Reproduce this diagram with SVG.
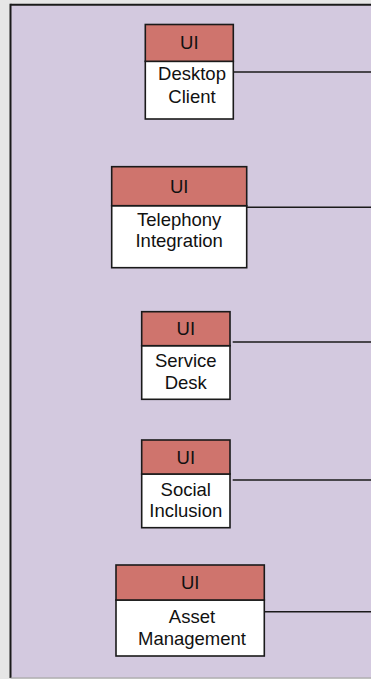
<svg xmlns="http://www.w3.org/2000/svg" width="371" height="679" viewBox="0 0 371 679">
  <style>
    .hdr { fill: #cf746d; stroke: #1a1a1a; stroke-width: 1.6; }
    .body { fill: #ffffff; stroke: #1a1a1a; stroke-width: 1.6; }
    .lbl { font-family: "Liberation Sans", Arial, sans-serif; font-size: 18.5px; fill: #111111; text-anchor: middle; }
    .conn { stroke: #1a1a1a; stroke-width: 1.5; fill: none; }
  </style>

  <!-- page background -->
  <rect x="0" y="0" width="371" height="679" fill="#e6e6e6"/>

  <!-- container -->
  <g id="container">
    <rect x="10.5" y="4.75" width="370" height="673" fill="#d3c9df"/>
    <line x1="10.5" y1="4.75" x2="371" y2="4.75" stroke="#1a1a1a" stroke-width="2"/>
    <line x1="10.5" y1="3.75" x2="10.5" y2="678" stroke="#1a1a1a" stroke-width="2"/>
    <line x1="10.5" y1="678" x2="371" y2="678" stroke="#9a9a9a" stroke-width="1.2"/>
  </g>

  <!-- connectors -->
  <g id="connectors">
    <line class="conn" x1="233.3" y1="72" x2="371" y2="72"/>
    <line class="conn" x1="246.7" y1="207.3" x2="371" y2="207.3"/>
    <line class="conn" x1="232.7" y1="342" x2="371" y2="342"/>
    <line class="conn" x1="232.7" y1="480" x2="371" y2="480"/>
    <line class="conn" x1="265" y1="611.7" x2="371" y2="611.7"/>
  </g>

  <g id="desktop-client">
    <rect class="body" x="145.3" y="61.3" width="88" height="57.7"/>
    <rect class="hdr" x="145.3" y="24.5" width="88" height="36.8"/>
    <text class="lbl" x="189.3" y="49">UI</text>
    <text class="lbl" x="192" y="79.5">Desktop</text>
    <text class="lbl" x="192" y="102.5">Client</text>
  </g>

  <g id="telephony-integration">
    <rect class="body" x="111.7" y="205.7" width="135" height="62"/>
    <rect class="hdr" x="111.7" y="166.7" width="135" height="39"/>
    <text class="lbl" x="179.2" y="192.6">UI</text>
    <text class="lbl" x="179.2" y="225.6">Telephony</text>
    <text class="lbl" x="179.2" y="246.8">Integration</text>
  </g>

  <g id="service-desk">
    <rect class="body" x="141.7" y="345.7" width="88.3" height="53.6"/>
    <rect class="hdr" x="141.7" y="311.7" width="88.3" height="34"/>
    <text class="lbl" x="185.8" y="335.3">UI</text>
    <text class="lbl" x="185.8" y="366.6">Service</text>
    <text class="lbl" x="185.8" y="389.3">Desk</text>
  </g>

  <g id="social-inclusion">
    <rect class="body" x="141.7" y="474" width="88.3" height="53.7"/>
    <rect class="hdr" x="141.7" y="440" width="88.3" height="34"/>
    <text class="lbl" x="185.8" y="463.6">UI</text>
    <text class="lbl" x="185.8" y="496">Social</text>
    <text class="lbl" x="185.8" y="517.3">Inclusion</text>
  </g>

  <g id="asset-management">
    <rect class="body" x="116" y="600" width="148.3" height="56"/>
    <rect class="hdr" x="116" y="565" width="148.3" height="35"/>
    <text class="lbl" x="190.2" y="589">UI</text>
    <text class="lbl" x="192" y="622.6">Asset</text>
    <text class="lbl" x="192" y="645">Management</text>
  </g>
</svg>
